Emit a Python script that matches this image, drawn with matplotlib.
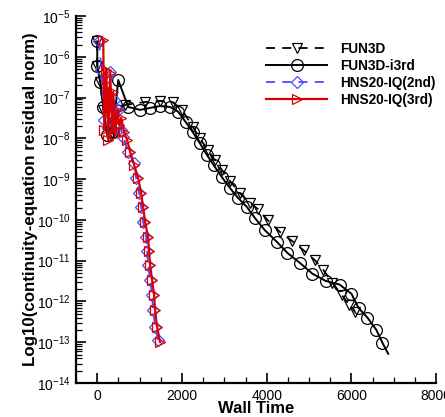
import matplotlib
matplotlib.use("Agg")
import matplotlib.pyplot as plt
from matplotlib.ticker import LogLocator, MultipleLocator, NullFormatter

plt.rcParams['font.family'] = ['Liberation Sans', 'DejaVu Sans']
plt.rcParams['mathtext.fontset'] = 'custom'
plt.rcParams['mathtext.rm'] = 'Liberation Sans'

# ---- data (wall time, residual) ----
fun3d_x = [0, 0, 70, 140, 306, 353, 424, 470, 660, 1130, 1480, 1790, 2000,
           2260, 2420, 2610, 2780, 2940, 3130, 3360, 3600, 3790, 4020, 4310,
           4590, 4870, 5130, 5340, 5550, 5770, 5950, 6090]
fun3d_y = [2.4e-6, 6.0e-7, 2.4e-7, 5.0e-8, 4.0e-8, 1.36e-8, 1.36e-8, 5.0e-8,
           6.6e-8, 7.8e-8, 8.3e-8, 7.6e-8, 5.0e-8, 1.9e-8, 1.0e-8, 5.2e-9,
           2.9e-9, 1.7e-9, 9.1e-10, 4.6e-10, 2.6e-10, 1.86e-10, 1.0e-10,
           5.1e-11, 3.1e-11, 1.8e-11, 1.05e-11, 5.9e-12, 2.9e-12, 1.45e-12,
           8.3e-13, 5.6e-13]

i3rd_x = [0, 0, 70, 140, 235, 375, 495, 730, 1010, 1250, 1480, 1720, 1910,
          2090, 2260, 2420, 2590, 2750, 2940, 3130, 3320, 3530, 3720, 3950,
          4240, 4490, 4780, 5080, 5390, 5720, 6000, 6170, 6380, 6590, 6730,
          6870]
i3rd_y = [2.4e-6, 6.0e-7, 2.4e-7, 5.9e-8, 1.2e-8, 1.4e-8, 2.7e-7, 5.9e-8,
          5.0e-8, 5.6e-8, 6.2e-8, 5.9e-8, 4.5e-8, 2.5e-8, 1.4e-8, 7.7e-9,
          3.9e-9, 2.2e-9, 1.13e-9, 6.1e-10, 3.5e-10, 2.1e-10, 1.12e-10,
          5.7e-11, 2.9e-11, 1.55e-11, 8.9e-12, 4.8e-12, 3.2e-12, 2.6e-12,
          1.55e-12, 6.9e-13, 4.0e-13, 2.0e-13, 9.8e-14, 5.2e-14]

hns2_x = [47, 94, 165, 212, 259, 306, 353, 400, 447, 494, 565, 612, 729, 871,
          918, 988, 1035, 1082, 1153, 1176, 1200, 1247, 1294, 1318, 1365, 1435]
hns2_y = [2.4e-6, 4.8e-7, 2.8e-8, 3.0e-7, 1.8e-8, 4.3e-7, 3.7e-8, 8.7e-8,
          2.1e-8, 5.0e-8, 1.6e-8, 1.07e-8, 4.7e-9, 2.5e-9, 1.07e-9, 4.6e-10,
          2.1e-10, 8.9e-11, 3.8e-11, 1.73e-11, 7.9e-12, 3.4e-12, 1.45e-12,
          6.2e-13, 2.4e-13, 1.15e-13]

hns3_x = [141, 165, 212, 259, 306, 353, 376, 424, 471, 518, 565, 635, 706,
          776, 871, 965, 1035, 1082, 1129, 1200, 1224, 1247, 1294, 1341, 1365,
          1412, 1482]
hns3_y = [2.58e-6, 1.6e-8, 4.8e-7, 9.1e-9, 4.0e-7, 1.6e-8, 1.4e-7, 1.2e-8,
          5.0e-8, 2.1e-8, 3.2e-8, 1.4e-8, 9.1e-9, 4.7e-9, 2.2e-9, 1.07e-9,
          4.6e-10, 2.1e-10, 8.9e-11, 3.8e-11, 1.73e-11, 7.9e-12, 3.4e-12,
          1.45e-12, 6.2e-13, 2.4e-13, 1.02e-13]

labels = ['FUN3D', 'FUN3D-i3rd', 'HNS20-IQ(2nd)', 'HNS20-IQ(3rd)']
x_ticks = [0, 2000, 4000, 6000, 8000]

fig = plt.figure(figsize=(4.45, 4.17), dpi=100)
ax = fig.add_axes([0.171, 0.0815, 0.809, 0.880])

ax.plot(fun3d_x, fun3d_y, color='black', lw=1.3, dashes=(5, 4),
        marker='v', ms=7, mfc='none', mec='black', mew=0.9, label=labels[0])
ax.plot(i3rd_x, i3rd_y, color='black', lw=1.4, marker='o', ms=8.5,
        mfc='none', mec='black', mew=0.9, markevery=list(range(len(i3rd_x) - 1)),
        label=labels[1])
ax.plot(hns2_x, hns2_y, color='#4a4aff', lw=1.3, dashes=(5, 4),
        marker='D', ms=6, mfc='none', mec='#4a4aff', mew=0.9, label=labels[2])
ax.plot(hns3_x, hns3_y, color='#dd0000', lw=1.6, marker='>', ms=7,
        mfc='none', mec='#dd0000', mew=0.9, label=labels[3])

ax.set_yscale('log')
ax.set_xlim(-500, 8000)
ax.set_ylim(1e-14, 1e-5)
ax.set_xticks(x_ticks)
ax.xaxis.set_minor_locator(MultipleLocator(500))
ax.yaxis.set_major_locator(LogLocator(base=10, numticks=20))
ax.yaxis.set_minor_locator(LogLocator(base=10, subs=range(2, 10), numticks=20))
ax.yaxis.set_minor_formatter(NullFormatter())

for s in ['top', 'right']:
    ax.spines[s].set_visible(False)
for s in ['left', 'bottom']:
    ax.spines[s].set_linewidth(1.6)

ax.tick_params(which='major', direction='in', length=7, width=1.2,
               labelsize=10, pad=4)
ax.tick_params(which='minor', direction='in', length=4, width=0.9)

ax.set_xlabel('Wall Time', fontsize=12, fontweight='bold', labelpad=-1)
ax.set_ylabel('Log10(continuity-equation residual norm)', fontsize=12.2,
              fontweight='bold', labelpad=-1)

leg = ax.legend(loc='upper left', bbox_to_anchor=(0.513, 0.945),
                borderaxespad=0.0, frameon=False, handlelength=4.5,
                handletextpad=0.95, labelspacing=0.22, numpoints=1,
                prop={'weight': 'bold', 'size': 9.8})

fig.savefig('out.png', dpi=100)
